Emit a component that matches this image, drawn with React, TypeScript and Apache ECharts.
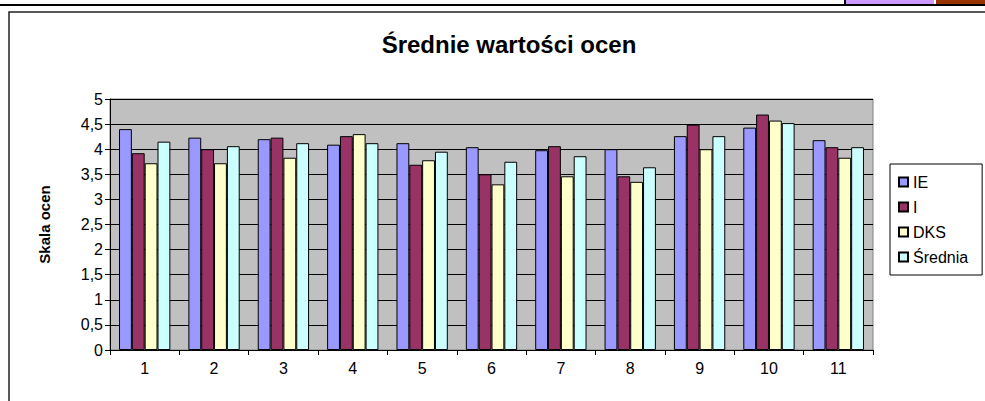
import React, { useEffect, useRef } from "react";
import * as echarts from "echarts";

const categories = ["1", "2", "3", "4", "5", "6", "7", "8", "9", "10", "11"];
const seriesNames = ["IE", "I", "DKS", "Średnia"];
const ieValues = [4.4, 4.23, 4.2, 4.09, 4.12, 4.04, 3.98, 4.0, 4.26, 4.43, 4.18];
const iValues = [3.92, 4.0, 4.23, 4.26, 3.69, 3.5, 4.06, 3.46, 4.49, 4.69, 4.04];
const dksValues = [3.72, 3.72, 3.83, 4.3, 3.78, 3.3, 3.46, 3.35, 4.0, 4.57, 3.83];
const sredniaValues = [4.15, 4.06, 4.12, 4.12, 3.95, 3.75, 3.86, 3.64, 4.26, 4.52, 4.04];
const colors = ["#9999FF", "#993366", "#FFFFCC", "#CCFFFF"];

export default function App() {
  const ref = useRef<HTMLDivElement>(null);
  useEffect(() => {
    if (!ref.current) return;
    const chart = echarts.init(ref.current, null, { renderer: "svg" });
    const data = [ieValues, iValues, dksValues, sredniaValues];
    const font = "Liberation Sans, Arial, sans-serif";
    chart.setOption({
      animation: false,
      backgroundColor: "#ffffff",
      textStyle: { fontFamily: font },
      title: {
        text: "Średnie wartości ocen",
        left: 504,
        textAlign: "center",
        top: 27,
        textStyle: { fontSize: 24, fontWeight: "bold", color: "#000", fontFamily: font },
      },
      grid: {
        left: 110,
        right: 112,
        top: 99,
        bottom: 51,
        show: true,
        backgroundColor: "#C0C0C0",
        borderColor: "#808080",
        borderWidth: 1,
      },
      legend: {
        orient: "vertical",
        left: 890,
        top: 164,
        data: seriesNames,
        icon: "rect",
        itemWidth: 9,
        itemHeight: 9,
        itemGap: 9,
        padding: [10, 14, 10, 8],
        borderColor: "#000",
        borderWidth: 1,
        backgroundColor: "#fff",
        textStyle: { fontSize: 16, color: "#000", fontFamily: font },
      },
      xAxis: {
        type: "category",
        data: categories,
        axisLine: { lineStyle: { color: "#000", width: 1 } },
        axisTick: { show: true, length: 5, lineStyle: { color: "#000" } },
        axisLabel: { color: "#000", fontSize: 16, margin: 10, fontFamily: font },
      },
      yAxis: {
        type: "value",
        min: 0,
        max: 5,
        interval: 0.5,
        name: "Skala ocen",
        nameLocation: "middle",
        nameGap: 58,
        nameTextStyle: { fontSize: 15, fontWeight: "bold", color: "#000", fontFamily: font },
        axisLine: { show: true, lineStyle: { color: "#000", width: 1 } },
        axisTick: { show: true, length: 5, lineStyle: { color: "#000" } },
        axisLabel: {
          color: "#000",
          fontSize: 16,
          margin: 7,
          fontFamily: font,
          formatter: (v: number) => String(v).replace(".", ","),
        },
        splitLine: { show: true, lineStyle: { color: "#000", width: 1 } },
      },
      series: seriesNames.map((name, i) => ({
        name,
        type: "bar",
        data: data[i],
        barGap: "0%",
        barCategoryGap: "26%",
        itemStyle: { color: colors[i], borderColor: "#000", borderWidth: 1 },
      })),
      graphic: [
        { type: "rect", shape: { x: 846, y: 0, width: 88, height: 4 }, style: { fill: "#CC99FF" } },
        { type: "rect", shape: { x: 936, y: 0, width: 49, height: 4 }, style: { fill: "#993300" } },
        { type: "rect", shape: { x: 844, y: 0, width: 2, height: 4 }, style: { fill: "#000" } },
        { type: "rect", shape: { x: 0, y: 4, width: 985, height: 2 }, style: { fill: "#000" } },
        {
          type: "polyline",
          shape: { points: [[9, 401], [9, 12], [985, 12]] },
          style: { stroke: "#222", lineWidth: 1.5, fill: "none" },
        },
      ],
    });
    return () => chart.dispose();
  }, []);
  return (
    <div
      ref={ref}
      style={{ position: "fixed", left: 0, top: 0, width: 985, height: 401 }}
    />
  );
}
